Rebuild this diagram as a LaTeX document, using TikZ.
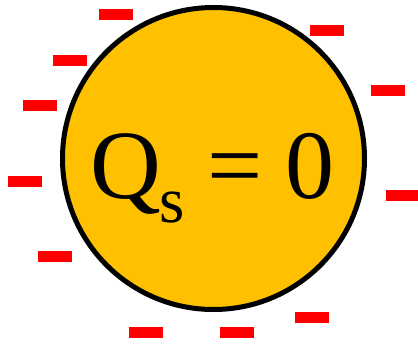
\documentclass[tikz,border=0pt]{standalone}
\usepackage{fontspec}
\setmainfont{Liberation Serif}
\definecolor{sphere}{HTML}{FFC000}
\definecolor{charge}{HTML}{FF0000}
\begin{document}
\begin{tikzpicture}[x=1pt,y=-1pt,
  minus/.style={fill=charge, draw=none},
  txt/.style={anchor=base west, inner sep=0pt, outer sep=0pt, font=\fontsize{98}{98}\selectfont},
  subtxt/.style={anchor=base west, inner sep=0pt, outer sep=0pt, font=\fontsize{65}{65}\selectfont}]
\useasboundingbox (0,0) rectangle (418,343);
\draw[fill=sphere, line width=5pt] (213.5,158.5) circle (151);
\node[txt] (q) at (90,198) {Q};
\node[subtxt] (s) at (159,222) {s};
\node[txt] (eq) at (207,198) {=};
\node[txt] (zero) at (285,198) {0};
% negative charges
\fill[minus] (99,9) rectangle (133,20);
\fill[minus] (310,25) rectangle (344,36);
\fill[minus] (53,55) rectangle (87,66);
\fill[minus] (371,85) rectangle (405,96);
\fill[minus] (23,100) rectangle (57,111);
\fill[minus] (8,176) rectangle (42,187);
\fill[minus] (386,190) rectangle (420,201);
\fill[minus] (38,251) rectangle (72,262);
\fill[minus] (295,312) rectangle (329,323);
\fill[minus] (129,327) rectangle (163,338);
\fill[minus] (220,327) rectangle (254,338);
\end{tikzpicture}
\end{document}
